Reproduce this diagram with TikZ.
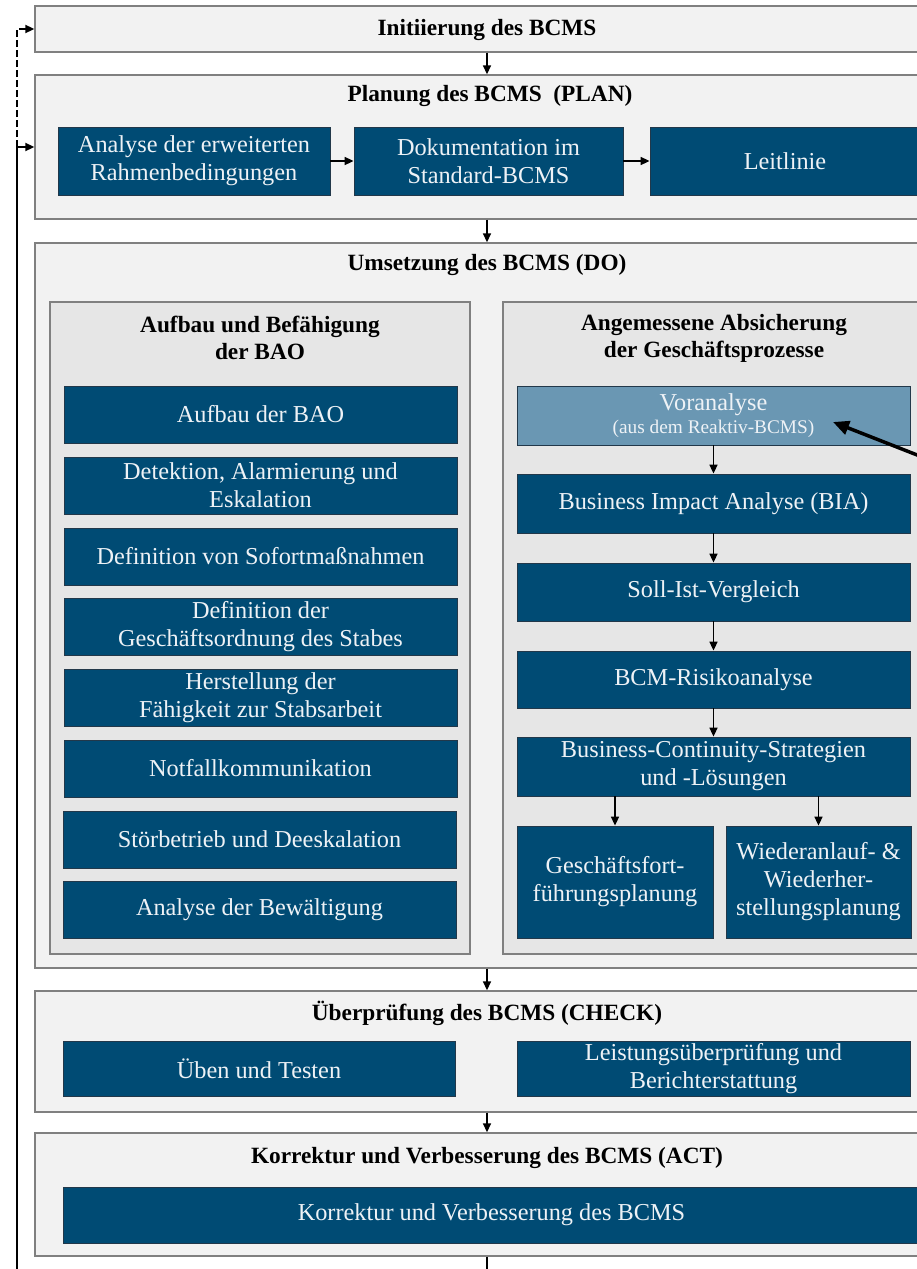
\documentclass[tikz,border=0pt]{standalone}
\usepackage{fontspec}
\setmainfont{Liberation Serif}
\usetikzlibrary{arrows.meta}
\definecolor{bcblue}{HTML}{004B74}
\definecolor{bclight}{HTML}{6A97B3}
\definecolor{stagefill}{HTML}{F2F2F2}
\definecolor{subfill}{HTML}{E6E6E6}
\definecolor{frame}{HTML}{808080}
\definecolor{boxline}{HTML}{22384A}
\definecolor{boxtext}{HTML}{EEF2F6}
\tikzset{
  sz/.style 2 args={minimum width=#1pt, minimum height=#2pt},
  stage/.style={draw=frame, line width=1.4pt, fill=stagefill, inner sep=0pt},
  subarea/.style={draw=frame, line width=1.4pt, fill=subfill, inner sep=0pt},
  bluebox/.style={draw=boxline, line width=0.8pt, fill=bcblue, text=boxtext,
    align=center, inner sep=2pt, font=\fontsize{24.3}{28}\selectfont},
  lightbox/.style={bluebox, fill=bclight},
  title/.style={align=center, font=\bfseries\fontsize{23.3}{27}\selectfont},
  arr/.style={line width=1.6pt, -{Triangle[length=9pt,width=8pt]}},
  bigarr/.style={line width=3.5pt, -{Triangle[length=16pt,width=14pt]}},
}
\begin{document}
\begin{tikzpicture}[x=1pt,y=-1pt]
\useasboundingbox (0,0) rectangle (917,1269);
\clip (0,0) rectangle (917,1269);
\fill[white] (0,0) rectangle (917,1269);

% stage frames
\node[stage, sz={904}{46}]  (init) at (487,29) {};
\node[stage, sz={904}{144}] (plan) at (487,147) {};
\node[stage, sz={904}{725}] (umset) at (487,605.5) {};
\node[stage, sz={904}{121}] (check) at (487,1051.5) {};
\node[stage, sz={904}{123}] (act) at (487,1194.5) {};

% stage titles
\node[title] (tinit) at (487,30) {Initiierung des BCMS};
\node[title] (tplan) at (490,96) {Planung des BCMS\ \ (PLAN)};
\node[title] (tumset) at (487,265) {Umsetzung des BCMS (DO)};
\node[title] (tcheck) at (487,1013) {Überprüfung des BCMS (CHECK)};
\node[title] (tact) at (487,1158) {Korrektur und Verbesserung des BCMS (ACT)};

% PLAN
\node[bluebox, sz={272}{68}] (p1) at (194,161) {Analyse der erweiterten\\Rahmenbedingungen};
\node[bluebox, sz={269}{68}] (p2) at (488.5,161) {Dokumentation im\\Standard-BCMS};
\node[bluebox, sz={270}{68}] (p3) at (785,161) {Leitlinie};
\draw[arr] (p1.east) -- (p2.west);
\draw[arr] (p2.east) -- (p3.west);

% DO: two areas
\node[subarea, sz={420}{652}] (bao) at (260,628) {};
\node[subarea, sz={422}{652}] (gp) at (714,628) {};
\node[title] (tbao) at (260,338) {Aufbau und Befähigung\\der BAO};
\node[title] (tgp) at (714,338) {Angemessene Absicherung\\der Geschäftsprozesse};

% BAO column
\node[bluebox, sz={393}{57}] (b1) at (260.5,414.5) {Aufbau der BAO};
\node[bluebox, sz={393}{57}] (b2) at (260.5,485.5) {Detektion, Alarmierung und\\Eskalation};
\node[bluebox, sz={393}{57}] (b3) at (260.5,556.5) {Definition von Sofortmaßnahmen};
\node[bluebox, sz={393}{57}] (b4) at (260.5,626.5) {Definition der\\Geschäftsordnung des Stabes};
\node[bluebox, sz={393}{57}] (b5) at (260.5,697.5) {Herstellung der\\Fähigkeit zur Stabsarbeit};
\node[bluebox, sz={393}{57}] (b6) at (260.5,768.5) {Notfallkommunikation};
\node[bluebox, sz={393}{57}] (b7) at (259.5,839.5) {Störbetrieb und Deeskalation};
\node[bluebox, sz={393}{57}] (b8) at (259.5,909.5) {Analyse der Bewältigung};

% business process column
\node[lightbox, sz={393}{59}] (vor) at (713.5,415.5)
  {Voranalyse\\[-5pt]{\fontsize{19.3}{22}\selectfont(aus dem Reaktiv-BCMS)}};
\node[bluebox, sz={393}{59}] (bia) at (713.5,503.5) {Business Impact Analyse (BIA)};
\node[bluebox, sz={393}{58}] (soll) at (713.5,592) {Soll-Ist-Vergleich};
\node[bluebox, sz={393}{57}] (risk) at (713.5,679.5) {BCM-Risikoanalyse};
\node[bluebox, sz={393}{59}] (bcs) at (713.5,766.5) {Business-Continuity-Strategien\\und -Lösungen};
\node[bluebox, sz={196}{112}] (gfp) at (615,882) {Geschäftsfort-\\führungsplanung};
\node[bluebox, sz={185}{112}] (wap) at (818.5,882) {Wiederanlauf- \&\\Wiederher-\\stellungsplanung};
\draw[arr] (vor.south) -- (bia.north);
\draw[arr] (bia.south) -- (soll.north);
\draw[arr] (soll.south) -- (risk.north);
\draw[arr] (risk.south) -- (bcs.north);
\draw[arr] (bcs.south -| gfp.north) -- (gfp.north);
\draw[arr] (bcs.south -| wap.north) -- (wap.north);

% pointer into the pre-analysis box
\coordinate (ext) at (935,462);
\coordinate (vortip) at (833,422);
\draw[bigarr] (ext) -- (vortip);

% CHECK
\node[bluebox, sz={392}{55}] (c1) at (259,1068.5) {Üben und Testen};
\node[bluebox, sz={393}{55}] (c2) at (713.5,1068.5) {Leistungsüberprüfung und\\Berichterstattung};

% ACT
\node[bluebox, sz={857}{56}] (a1) at (491.5,1215) {Korrektur und Verbesserung des BCMS};

% flow between stages
\draw[arr] (init.south) -- (plan.north);
\draw[arr] (plan.south) -- (umset.north);
\draw[arr] (umset.south) -- (check.north);
\draw[arr] (check.south) -- (act.north);
\coordinate (out) at (487,1290);
\draw[line width=1.6pt] (act.south) -- (out);

% feedback loop
\coordinate (loopin) at (17,1290);
\coordinate (loopturn) at (17,147);
\draw[arr, line width=2pt] (loopin) |- (plan.west);
\draw[arr, line width=2pt, dash pattern=on 7pt off 3pt] (loopturn) |- (init.west);
\end{tikzpicture}
\end{document}
